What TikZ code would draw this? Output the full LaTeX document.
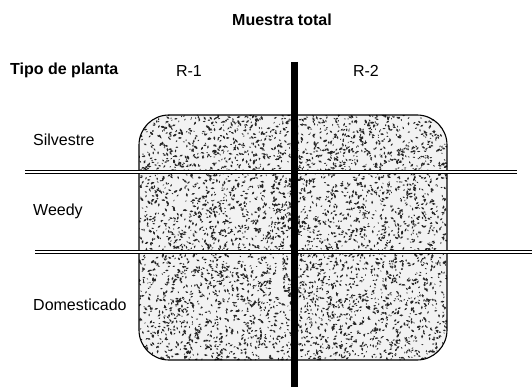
\documentclass[tikz,border=0pt]{standalone}
\usepackage{fontspec}
\setmainfont{Liberation Sans}
\begin{document}
\begin{tikzpicture}[x=1pt,y=-1pt,
  lbl/.style={font=\fontsize{16}{18}\selectfont, inner sep=0pt, anchor=west},
  hdr/.style={font=\fontsize{16}{18}\selectfont\bfseries, inner sep=0pt},
  dbl/.style={draw=black, double=white, double distance=1.6pt, line width=0.9pt},
  bar/.style={line width=7pt, draw=black}]
\useasboundingbox (0,0) rectangle (532,387);
\fill[white] (0,0) rectangle (532,387);
% titles
\node[hdr] (title) at (282,20) {Muestra total};
\node[hdr, anchor=west] (tipo) at (10,70) {Tipo de planta};
\node[lbl, anchor=center] (r1) at (189,71) {R-1};
\node[lbl, anchor=center] (r2) at (366,71) {R-2};
% row labels
\node[lbl] (silv) at (33,140) {Silvestre};
\node[lbl] (weedy) at (33,211) {Weedy};
\node[lbl] (dom) at (33,305) {Domesticado};
% stippled box
\begin{scope}
  \clip[rounded corners=30pt] (139,115) rectangle (447,360);
  \fill[black!5] (139,115) rectangle (447,360);
  \pgfmathsetseed{7}
  \foreach \i in {1,...,4600}{
    \pgfmathsetmacro\rx{139+308*rnd}
    \pgfmathsetmacro\ry{115+245*rnd}
    \pgfmathsetmacro\rr{0.5+0.7*rnd}
    \pgfmathsetmacro\ra{180*rnd}
    \fill[black!85, rotate around={\ra:(\rx,\ry)}] (\rx,\ry) ellipse ({\rr*1.7pt} and {\rr*0.85pt});
  }
\end{scope}
\node[draw=black, line width=1.1pt, rounded corners=30pt, minimum width=308pt, minimum height=245pt, inner sep=0pt] (box) at (293,237.5) {};
% horizontal double lines
\coordinate (h1a) at (25,172);
\coordinate (h1b) at (517,172);
\coordinate (h2a) at (35,252);
\coordinate (h2b) at (532,252);
\draw[dbl] (h1a) -- (h1b);
\draw[dbl] (h2a) -- (h2b);
% vertical bar
\coordinate (vtop) at (294.5,62);
\coordinate (vbot) at (294.5,387);
\draw[bar] (vtop) -- (vbot);
\end{tikzpicture}
\end{document}
